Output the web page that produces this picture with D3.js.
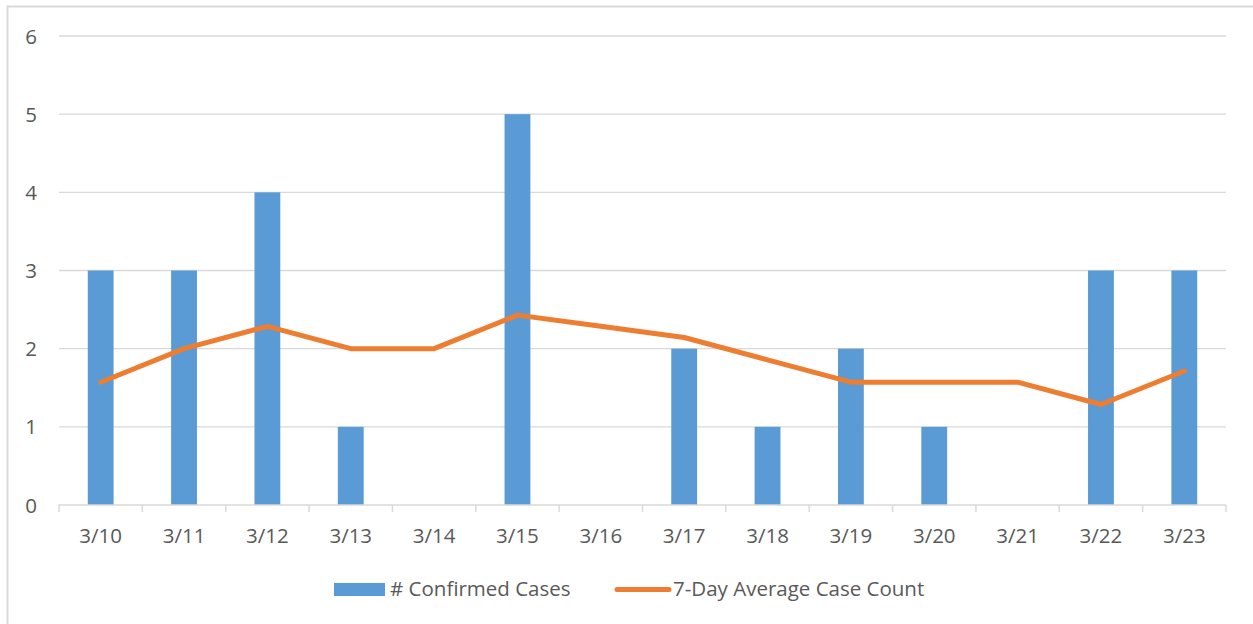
<!DOCTYPE html>
<html><head><meta charset="utf-8">
<script src="https://cdn.jsdelivr.net/npm/d3@7"></script>
<style>body{margin:0;background:#fff}svg{display:block}</style>
</head><body><svg id="c" width="1253" height="624"></svg>
<script>
const categories = ["3/10","3/11","3/12","3/13","3/14","3/15","3/16","3/17","3/18","3/19","3/20","3/21","3/22","3/23"];
const confirmedCases = [3,3,4,1,0,5,0,2,1,2,1,0,3,3];
const sevenDayAvg = [1.571,2,2.286,2,2,2.429,2.286,2.143,1.857,1.571,1.571,1.571,1.286,1.714];
const yTicks = [0,1,2,3,4,5,6];
const seriesNames = ["# Confirmed Cases","7-Day Average Case Count"];

const svg = d3.select("#c");
const font = "'Open Sans', sans-serif";
const fs = "20.5px";
const textColor = "#595959", gridColor = "#d9d9d9";
const L = 59, R = 1226, T = 36, B = 505;

svg.append("rect").attr("x",7.5).attr("y",6.5).attr("width",1300).attr("height",700)
  .attr("fill","none").attr("stroke",gridColor).attr("stroke-width",2);

const x = d3.scaleBand().domain(categories).range([L,R]).padding(0);
const y = d3.scaleLinear().domain([0,6]).range([B,T]);

// gridlines
svg.append("g").selectAll("line").data(yTicks.filter(d=>d>0)).join("line")
  .attr("x1",L).attr("x2",R).attr("y1",d=>y(d)).attr("y2",d=>y(d))
  .attr("stroke",gridColor).attr("stroke-width",1.3);

// y labels
svg.append("g").selectAll("text").data(yTicks).join("text")
  .attr("x",31).attr("y",d=>y(d)+7.5).attr("text-anchor","middle")
  .attr("fill",textColor).style("font-family",font).style("font-size",fs).text(d=>d);

// bars
const bw = x.bandwidth()*0.31;
svg.append("g").selectAll("rect").data(categories).join("rect")
  .attr("x",(d)=>x(d)+x.bandwidth()/2-bw/2).attr("width",bw)
  .attr("y",(d,i)=>y(confirmedCases[i])).attr("height",(d,i)=>B-y(confirmedCases[i]))
  .attr("fill","#5b9bd5");

// x axis
const xa = svg.append("g").attr("transform",`translate(0,${B})`)
  .call(d3.axisBottom(x).tickSize(0).tickPadding(0));
xa.select(".domain").remove();
xa.selectAll("text").remove();
svg.append("line").attr("x1",L).attr("x2",R).attr("y1",B).attr("y2",B).attr("stroke",gridColor).attr("stroke-width",1.5);
const bounds = categories.map(d=>x(d)).concat([R]);
svg.append("g").selectAll("line").data(bounds).join("line")
  .attr("x1",d=>d).attr("x2",d=>d).attr("y1",B).attr("y2",B+7).attr("stroke",gridColor).attr("stroke-width",1.5);
svg.append("g").selectAll("text").data(categories).join("text")
  .attr("x",d=>x(d)+x.bandwidth()/2).attr("y",543).attr("text-anchor","middle")
  .attr("fill",textColor).style("font-family",font).style("font-size",fs).text(d=>d);

// line
const line = d3.line().x((d,i)=>x(categories[i])+x.bandwidth()/2).y(d=>y(d));
svg.append("path").datum(sevenDayAvg).attr("d",line).attr("fill","none")
  .attr("stroke","#ed7d31").attr("stroke-width",5).attr("stroke-linejoin","round").attr("stroke-linecap","round");

// legend
const lg = svg.append("g");
lg.append("rect").attr("x",334).attr("y",583).attr("width",51).attr("height",13).attr("fill","#5b9bd5");
lg.append("text").attr("x",390).attr("y",596).attr("fill",textColor)
  .style("font-family",font).style("font-size",fs).text(seriesNames[0]);
lg.append("line").attr("x1",617).attr("x2",669).attr("y1",589.5).attr("y2",589.5)
  .attr("stroke","#ed7d31").attr("stroke-width",5).attr("stroke-linecap","round");
lg.append("text").attr("x",673).attr("y",596).attr("fill",textColor)
  .style("font-family",font).style("font-size",fs).text(seriesNames[1]);
</script></body></html>
